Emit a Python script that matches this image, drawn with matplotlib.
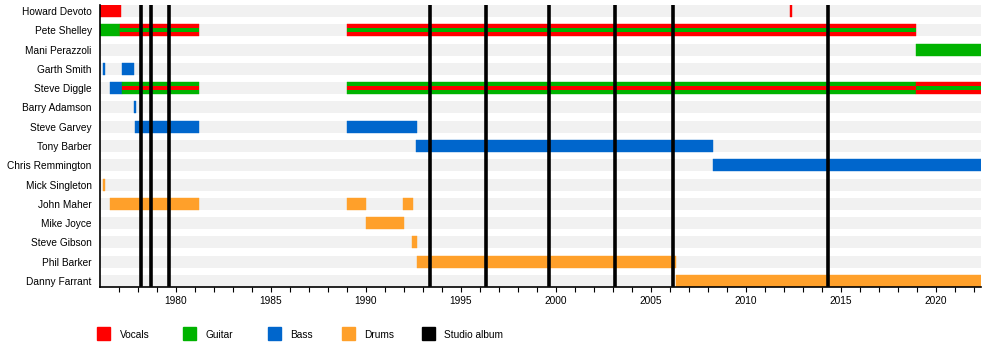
import matplotlib
matplotlib.use("Agg")
import matplotlib.pyplot as plt
from matplotlib.patches import Rectangle

plt.rcParams['font.family'] = ['Liberation Sans', 'DejaVu Sans']

members = ["Howard Devoto", "Pete Shelley", "Mani Perazzoli", "Garth Smith",
           "Steve Diggle", "Barry Adamson", "Steve Garvey", "Tony Barber",
           "Chris Remmington", "Mick Singleton", "John Maher", "Mike Joyce",
           "Steve Gibson", "Phil Barker", "Danny Farrant"]

END = 2022.37
START = 1976.0

# (member, start, end, primary role, secondary role)
periods_member = ["Howard Devoto", "Howard Devoto",
                  "Pete Shelley", "Pete Shelley", "Pete Shelley",
                  "Mani Perazzoli",
                  "Garth Smith", "Garth Smith",
                  "Steve Diggle", "Steve Diggle", "Steve Diggle", "Steve Diggle",
                  "Barry Adamson",
                  "Steve Garvey", "Steve Garvey",
                  "Tony Barber",
                  "Chris Remmington",
                  "Mick Singleton",
                  "John Maher", "John Maher", "John Maher",
                  "Mike Joyce",
                  "Steve Gibson",
                  "Phil Barker",
                  "Danny Farrant"]
periods_start = [1976.0, 2012.34,
                 1976.0, 1977.05, 1989.0,
                 2018.95,
                 1976.15, 1977.16,
                 1976.53, 1977.16, 1989.0, 2018.93,
                 1977.79,
                 1977.84, 1989.0,
                 1992.63,
                 2008.25,
                 1976.15,
                 1976.53, 1989.0, 1991.96,
                 1990.0,
                 1992.42,
                 1992.67,
                 2006.32]
periods_end = [1977.09, 2012.4,
               1977.05, 1981.2, 2018.95,
               END,
               1976.25, 1977.79,
               1977.16, 1981.2, 2018.93, END,
               1977.9,
               1981.2, 1992.68,
               2008.25,
               END,
               1976.25,
               1981.2, 1990.0, 1992.46,
               1992.0,
               1992.67,
               2006.32,
               END]
periods_role = ["Vocals", "Vocals",
                "Guitar", "Vocals", "Vocals",
                "Guitar",
                "Bass", "Bass",
                "Bass", "Guitar", "Guitar", "Vocals",
                "Bass",
                "Bass", "Bass",
                "Bass",
                "Bass",
                "Drums",
                "Drums", "Drums", "Drums",
                "Drums",
                "Drums",
                "Drums",
                "Drums"]
periods_second = [None, None,
                  None, "Guitar", "Guitar",
                  None,
                  None, None,
                  None, "Vocals", "Vocals", "Guitar",
                  None,
                  None, None,
                  None,
                  None,
                  None,
                  None, None, None,
                  None,
                  None,
                  None,
                  None]

albums = [1978.16, 1978.68, 1979.63, 1993.37, 1996.33, 1999.65, 2003.12, 2006.17, 2014.3]

roles = ["Vocals", "Guitar", "Bass", "Drums", "Studio album"]
role_colors = {"Vocals": "#ff0000", "Guitar": "#00b300", "Bass": "#0066cc",
               "Drums": "#ffa02a", "Studio album": "#000000"}

fig = plt.figure(figsize=(10, 3.45), dpi=100)
ax = fig.add_axes([0.1, 0.168, 0.881, 0.8175])

BAR_H = 0.62
n = len(members)
ypos = {m: i for i, m in enumerate(members)}

# background rows
ax.barh(range(n), END - START, left=START, height=BAR_H, color="#f1f1f1", zorder=1)

for m, s, e, r, r2 in zip(periods_member, periods_start, periods_end, periods_role, periods_second):
    y = ypos[m]
    ax.barh(y, e - s, left=s, height=BAR_H, color=role_colors[r], zorder=2,
            edgecolor=role_colors[r], linewidth=0.3)
    if r2 is not None:
        ax.barh(y, e - s, left=s, height=BAR_H / 3, color=role_colors[r2], zorder=3, linewidth=0)

for a in albums:
    ax.axvline(a, ymin=0.008, ymax=1.0, color="black", linewidth=2.6, zorder=4)

ax.set_xlim(START, END)
ax.set_ylim(n - 1 + 0.31, -0.31)
ax.set_yticks(range(n))
ax.set_yticklabels(members, fontsize=7.3)
ax.tick_params(axis='y', length=0, pad=6)
ax.set_xticks(range(1980, 2021, 5))
ax.set_xticklabels([str(v) for v in range(1980, 2021, 5)], fontsize=7.3)
ax.set_xticks(range(1977, 2023), minor=True)
ax.tick_params(axis='x', which='both', length=3.5, width=0.8, direction='out', pad=3)
for sp in ["top", "right"]:
    ax.spines[sp].set_visible(False)
ax.spines["left"].set_linewidth(1.2)
ax.spines["bottom"].set_linewidth(1.2)

# legend
W, H = 1000.0, 345.0
sq_x = [97, 183, 268, 342, 422]
tx_x = [120, 205, 290, 364, 444]
for r, sx, tx in zip(roles, sq_x, tx_x):
    fig.add_artist(Rectangle((sx / W, 1 - 340 / H), 13 / W, 13 / H,
                             transform=fig.transFigure, color=role_colors[r]))
    fig.text(tx / W, 1 - 334.5 / H, r, fontsize=7.3, va="center", ha="left")

fig.savefig("out.png", dpi=100)
